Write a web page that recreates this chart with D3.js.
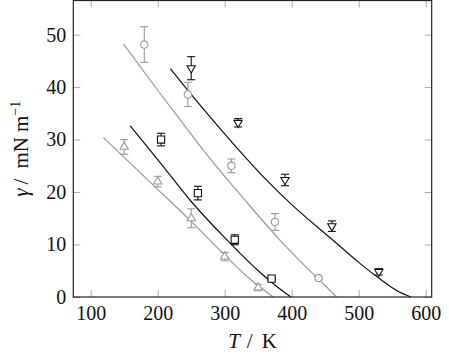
<!DOCTYPE html>
<html>
<head>
<meta charset="utf-8">
<script src="https://cdn.jsdelivr.net/npm/d3@7"></script>
<style>
  body { margin: 0; background: #fff; }
</style>
</head>
<body>
<script>
'use strict';

const FONT = '"Liberation Serif", "Times New Roman", serif';

// measured points (T in K, gamma in mN/m, err = half width of error bar)
const triUpT   = [150, 200, 250, 300, 350];
const triUpG   = [28.6, 22.0, 15.0, 7.7, 1.8];
const triUpE   = [1.4, 1.0, 1.8, 0.8, 0.6];

const squareT  = [205, 260, 315, 370];
const squareG  = [30.0, 19.8, 10.9, 3.5];
const squareE  = [1.2, 1.3, 0.95, 0.3];

const circleT  = [180, 245, 310, 375, 440];
const circleG  = [48.1, 38.6, 25.0, 14.3, 3.6];
const circleE  = [3.4, 2.3, 1.3, 1.6, 0.3];

const triDnT   = [250, 320, 390, 460, 530];
const triDnG   = [43.6, 33.2, 22.3, 13.5, 4.8];
const triDnE   = [2.2, 0.8, 1.1, 1.0, 0.6];

// fitted curves
const fitTriUpT  = [119, 150, 200, 250, 300, 340, 360, 372];
const fitTriUpG  = [30.4, 26.6, 20.5, 14.4, 8.0, 3.2, 1.2, 0];
const fitSquareT = [159, 200, 250, 300, 350, 370, 390, 399];
const fitSquareG = [32.6, 26.2, 18.2, 11.3, 5.0, 2.8, 0.8, 0];
const fitCircleT = [149, 200, 244, 268, 330, 382, 440, 460, 467];
const fitCircleG = [48.2, 39.4, 32.0, 28.0, 18.5, 10.9, 3.4, 0.9, 0];
const fitTriDnT  = [219, 263, 308, 360, 400, 460, 500, 530, 560, 578];
const fitTriDnG  = [43.5, 36.6, 29.9, 22.6, 17.6, 11.0, 6.6, 3.6, 1.0, 0];

const xTicks = [100, 200, 300, 400, 500, 600];
const yTicks = [0, 10, 20, 30, 40, 50];

const GRAY = '#9a9a9a';
const BLACK = '#111';

const width = 449, height = 362;
const margin = {left: 73.3, right: 17.3, top: 0.5, bottom: 65};

const svg = d3.select('body').append('svg')
  .attr('width', width)
  .attr('height', height);

const x = d3.scaleLinear().domain([74, 609]).range([margin.left, width - margin.right]);
const y = d3.scaleLinear().domain([0, 56.5]).range([height - margin.bottom, margin.top]);

const plotL = x.range()[0], plotR = x.range()[1];
const plotT = y.range()[1], plotB = y.range()[0];

// axes, ticks pointing inwards on all four sides
function styleAxis(g) {
  g.attr('font-family', null).attr('font-size', null);
  g.select('.domain').remove();
  g.selectAll('.tick line').attr('stroke', '#aaa').attr('stroke-width', 1);
  g.selectAll('.tick text')
    .style('font-family', FONT)
    .style('font-size', '20px')
    .attr('fill', '#111');
}

svg.append('g')
  .attr('transform', 'translate(0,' + plotB + ')')
  .call(d3.axisBottom(x).tickValues(xTicks).tickSize(-7).tickPadding(9).tickFormat(d3.format('d')))
  .call(styleAxis);

svg.append('g')
  .attr('transform', 'translate(0,' + plotT + ')')
  .call(d3.axisTop(x).tickValues(xTicks).tickSize(-7).tickFormat(''))
  .call(styleAxis);

svg.append('g')
  .attr('transform', 'translate(' + plotL + ',0)')
  .call(d3.axisLeft(y).tickValues(yTicks).tickSize(-7).tickPadding(7).tickFormat(d3.format('d')))
  .call(styleAxis);

svg.append('g')
  .attr('transform', 'translate(' + plotR + ',0)')
  .call(d3.axisRight(y).tickValues(yTicks).tickSize(-7).tickFormat(''))
  .call(styleAxis);

// fitted curves
const line = d3.line()
  .x((d) => x(d[0]))
  .y((d) => y(d[1]))
  .curve(d3.curveMonotoneX);

function drawFit(ts, gs, color) {
  svg.append('path')
    .datum(ts.map((t, i) => [t, gs[i]]))
    .attr('fill', 'none')
    .attr('stroke', color)
    .attr('stroke-width', 1.2)
    .attr('d', line);
}

drawFit(fitTriUpT, fitTriUpG, GRAY);
drawFit(fitSquareT, fitSquareG, BLACK);
drawFit(fitCircleT, fitCircleG, GRAY);
drawFit(fitTriDnT, fitTriDnG, BLACK);

// marker shapes
const markers = {
  triUp: () => {
    let r = 4.8;
    return 'M0,' + (-r) + 'L' + (0.866 * r) + ',' + (r / 2) + 'L' + (-0.866 * r) + ',' + (r / 2) + 'Z';
  },
  triDn: () => {
    let r = 4.8;
    return 'M0,' + r + 'L' + (0.866 * r) + ',' + (-r / 2) + 'L' + (-0.866 * r) + ',' + (-r / 2) + 'Z';
  },
  square: () => 'M-3.6,-3.6H3.6V3.6H-3.6Z',
  circle: () => 'M3.7,0A3.7,3.7 0 1,1 -3.7,0A3.7,3.7 0 1,1 3.7,0Z'
};

function drawPoints(ts, gs, es, color, shape) {
  let data = ts.map((t, i) => ({t: t, g: gs[i], e: es[i]}));
  let g = svg.append('g');

  // error bars
  let eb = g.selectAll('.err')
    .data(data)
    .enter()
    .append('g')
    .attr('stroke', color)
    .attr('stroke-width', 1.1);
  eb.append('line')
    .attr('x1', (d) => x(d.t)).attr('x2', (d) => x(d.t))
    .attr('y1', (d) => y(d.g - d.e)).attr('y2', (d) => y(d.g + d.e));
  eb.append('line')
    .attr('x1', (d) => x(d.t) - 4).attr('x2', (d) => x(d.t) + 4)
    .attr('y1', (d) => y(d.g - d.e)).attr('y2', (d) => y(d.g - d.e));
  eb.append('line')
    .attr('x1', (d) => x(d.t) - 4).attr('x2', (d) => x(d.t) + 4)
    .attr('y1', (d) => y(d.g + d.e)).attr('y2', (d) => y(d.g + d.e));

  g.selectAll('.mark')
    .data(data)
    .enter()
    .append('path')
    .attr('d', markers[shape])
    .attr('transform', (d) => 'translate(' + x(d.t) + ',' + y(d.g) + ')')
    .attr('fill', '#fff')
    .attr('stroke', color)
    .attr('stroke-width', 1.1);
}

drawPoints(triUpT, triUpG, triUpE, GRAY, 'triUp');
drawPoints(squareT, squareG, squareE, BLACK, 'square');
drawPoints(circleT, circleG, circleE, GRAY, 'circle');
drawPoints(triDnT, triDnG, triDnE, BLACK, 'triDn');

// frame
svg.append('rect')
  .attr('x', plotL)
  .attr('y', plotT)
  .attr('width', plotR - plotL)
  .attr('height', plotB - plotT)
  .attr('fill', 'none')
  .attr('stroke', '#222')
  .attr('stroke-width', 1.2);

// axis labels (extra gaps mimic TeX spacing around the slash)
let xl = svg.append('text')
  .attr('x', (plotL + plotR) / 2)
  .attr('y', 348)
  .attr('text-anchor', 'middle')
  .style('font-family', FONT)
  .style('font-size', '21px')
  .attr('fill', '#111');
xl.append('tspan').style('font-style', 'italic').text('T');
xl.append('tspan').attr('dx', 7).text('/');
xl.append('tspan').attr('dx', 9).text('K');

let yl = svg.append('text')
  .attr('transform', 'translate(28,' + ((plotT + plotB) / 2) + ')rotate(-90)')
  .attr('text-anchor', 'middle')
  .style('font-family', FONT)
  .style('font-size', '21px')
  .attr('fill', '#111');
yl.append('tspan').style('font-style', 'italic').text('γ');
yl.append('tspan').attr('dx', 4).text('/');
yl.append('tspan').attr('dx', 10).text('mN');
yl.append('tspan').attr('dx', 5).text('m');
yl.append('tspan').attr('dy', -8).style('font-size', '14px').text('−1');
</script>
</body>
</html>
